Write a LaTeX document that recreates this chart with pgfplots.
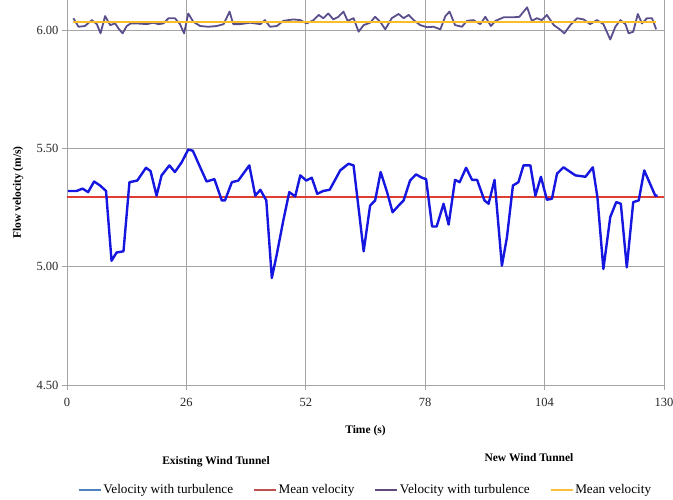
\documentclass[border=0pt]{standalone}
\usepackage{fontspec}
\setmainfont{Liberation Serif}
\usepackage{pgfplots}
\pgfplotsset{compat=1.18}
\definecolor{blueline}{RGB}{22,22,225}
\definecolor{redline}{RGB}{224,62,50}
\definecolor{purpleline}{RGB}{92,78,140}
\definecolor{yellowline}{RGB}{250,190,40}
\definecolor{legblue}{RGB}{79,129,189}
\definecolor{legred}{RGB}{192,80,77}
\definecolor{legpurple}{RGB}{96,74,123}
\definecolor{legyellow}{RGB}{250,192,60}
\definecolor{gridgray}{RGB}{165,165,165}
\begin{document}
\begin{tikzpicture}
\useasboundingbox (-67pt,-114pt) rectangle (606pt,385pt);
\begin{axis}[
  scale only axis, width=597pt, height=385pt,
  anchor=south west, at={(0pt,0pt)},
  xmin=0, xmax=130, ymin=4.5, ymax=6.127,
  xtick={0,26,52,78,104,130}, ytick={4.5,5,5.5,6},
  grid=major, major grid style={color=gridgray, line width=0.8pt},
  axis lines=left, axis line style={-, color=gridgray, line width=0.8pt},
  tick align=outside, major tick length=5pt,
  tick style={color=gridgray, line width=0.8pt},
  yticklabel style={/pgf/number format/.cd, fixed, fixed zerofill, precision=2},
  xticklabel style={yshift=-5pt},
  /pgf/number format/assume math mode=true,
  tick label style={font=\fontsize{12.5}{14}\selectfont, text=black!85},
  xlabel={\bfseries Time (s)},
  xlabel style={at={(axis description cs:0.5,-0.119)}, anchor=center, font=\fontsize{11.5}{14}\selectfont},
  ylabel={\bfseries Flow velocity (m/s)},
  ylabel style={at={(axis description cs:-0.082,0.5)}, anchor=center, font=\fontsize{11.5}{14}\selectfont},
  legend columns=4,
  legend style={at={(axis description cs:0.5,-0.273)}, anchor=center, draw=none, fill=none,
    font=\fontsize{13.2}{15}\selectfont,
    /tikz/every even column/.append style={column sep=18pt}},
  legend image code/.code={\draw[#1] (0pt,0pt) -- (22pt,0pt);},
]
\addlegendimage{color=legblue, line width=1.5pt}
\addlegendentry{Velocity with turbulence}
\addlegendimage{color=legred, line width=1.5pt}
\addlegendentry{Mean velocity}
\addlegendimage{color=legpurple, line width=1.5pt}
\addlegendentry{Velocity with turbulence}
\addlegendimage{color=legyellow, line width=1.5pt}
\addlegendentry{Mean velocity}

\addplot[forget plot, color=redline, line width=1.8pt] coordinates {(0,5.295) (130,5.295)};
\addplot[forget plot, color=blueline, line width=2.4pt, line join=round] coordinates {
(0.2,5.32) (2.1,5.32) (3.4,5.33) (4.6,5.315) (5.9,5.36) (7.2,5.343) (8.5,5.32) (9.7,5.025)
(10.8,5.06) (12.3,5.065) (13.6,5.357) (15.3,5.364) (17.2,5.418) (18.2,5.404) (19.5,5.30)
(20.6,5.386) (22.3,5.428) (23.5,5.40) (25.0,5.442) (26.4,5.495) (27.4,5.49) (29.0,5.42)
(30.4,5.36) (32.1,5.37) (33.7,5.28) (34.4,5.28) (35.9,5.357) (37.3,5.364) (39.7,5.428)
(41.0,5.30) (42.1,5.325) (43.4,5.28) (44.6,4.952) (45.7,5.054) (47.1,5.195) (48.4,5.315)
(49.7,5.297) (50.8,5.386) (52.1,5.364) (53.3,5.376) (54.5,5.308) (55.8,5.32) (57.2,5.325)
(59.5,5.407) (61.3,5.435) (62.4,5.428) (64.6,5.065) (66.0,5.258) (67.1,5.28) (68.3,5.40)
(69.7,5.315) (70.9,5.23) (72.2,5.258) (73.3,5.28) (74.7,5.364) (76.0,5.39) (77.3,5.376)
(78.2,5.37) (79.5,5.17) (80.5,5.17) (82.0,5.266) (83.1,5.178) (84.5,5.367) (85.5,5.357)
(86.9,5.418) (88.2,5.367) (89.3,5.367) (90.9,5.28) (91.8,5.266) (93.1,5.367) (94.7,5.004)
(95.8,5.124) (97.1,5.343) (98.3,5.357) (99.4,5.428) (100.9,5.428) (102.0,5.30) (103.2,5.38)
(104.5,5.283) (105.6,5.287) (106.7,5.393) (108.1,5.42) (110.7,5.386) (112.9,5.38) (114.5,5.42)
(115.5,5.294) (116.8,4.99) (118.3,5.21) (119.6,5.273) (120.6,5.266) (121.9,4.997) (123.3,5.273)
(124.5,5.28) (125.7,5.407) (128.1,5.30) (128.6,5.30)
};
\addplot[forget plot, color=purpleline, line width=1.8pt, line join=round] coordinates {
(1.4,6.05) (2.5,6.014) (3.9,6.017) (5.4,6.042) (6.5,6.025) (7.3,5.986) (8.3,6.059) (9.4,6.021)
(10.5,6.028) (11.2,6.007) (12.1,5.986) (13.0,6.017) (13.9,6.028) (15.2,6.028) (17.4,6.025)
(18.8,6.031) (19.9,6.025) (21.0,6.028) (22.1,6.05) (23.5,6.05) (24.6,6.025) (25.5,5.986)
(26.4,6.07) (27.5,6.035) (29.0,6.017) (30.8,6.014) (32.6,6.017) (34.1,6.025) (35.4,6.078)
(36.2,6.025) (37.7,6.025) (39.9,6.031) (42.1,6.025) (43.1,6.042) (44.2,6.014) (45.7,6.017)
(47.1,6.039) (49.3,6.045) (50.8,6.042) (52.2,6.028) (53.7,6.042) (54.8,6.064) (55.8,6.05)
(56.9,6.07) (58.0,6.045) (59.1,6.056) (60.2,6.078) (61.1,6.039) (62.4,6.05) (63.5,5.993)
(64.6,6.021) (66.0,6.031) (67.1,6.056) (68.2,6.035) (69.3,6.003) (70.7,6.05) (72.2,6.068)
(73.3,6.05) (74.4,6.064) (75.5,6.042) (76.9,6.021) (78.4,6.012) (79.8,6.014) (81.3,6.003)
(82.4,6.059) (83.3,6.078) (84.5,6.021) (86.0,6.014) (87.1,6.039) (88.5,6.042) (90.0,6.025)
(91.1,6.056) (92.3,6.017) (93.3,6.039) (95.1,6.054) (97.2,6.054) (98.5,6.056) (100.2,6.096)
(101.2,6.039) (102.3,6.05) (103.4,6.042) (104.5,6.064) (106.0,6.021) (107.3,6.003) (108.3,5.986)
(109.6,6.021) (111.1,6.05) (112.5,6.045) (113.9,6.025) (115.4,6.042) (116.8,6.025) (118.3,5.96)
(119.4,6.014) (120.5,6.042) (121.6,6.025) (122.3,5.986) (123.3,5.993) (124.3,6.068) (125.2,6.028)
(126.3,6.05) (127.4,6.05) (128.3,6.003)
};
\addplot[forget plot, color=yellowline, line width=2.2pt] coordinates {(1.4,6.033) (128.3,6.033)};
\end{axis}
\node[font=\bfseries\fontsize{11.5}{14}\selectfont] at (149pt,-77pt) {Existing Wind Tunnel};
\node[font=\bfseries\fontsize{11.5}{14}\selectfont] at (462pt,-73pt) {New Wind Tunnel};
\end{tikzpicture}
\end{document}
